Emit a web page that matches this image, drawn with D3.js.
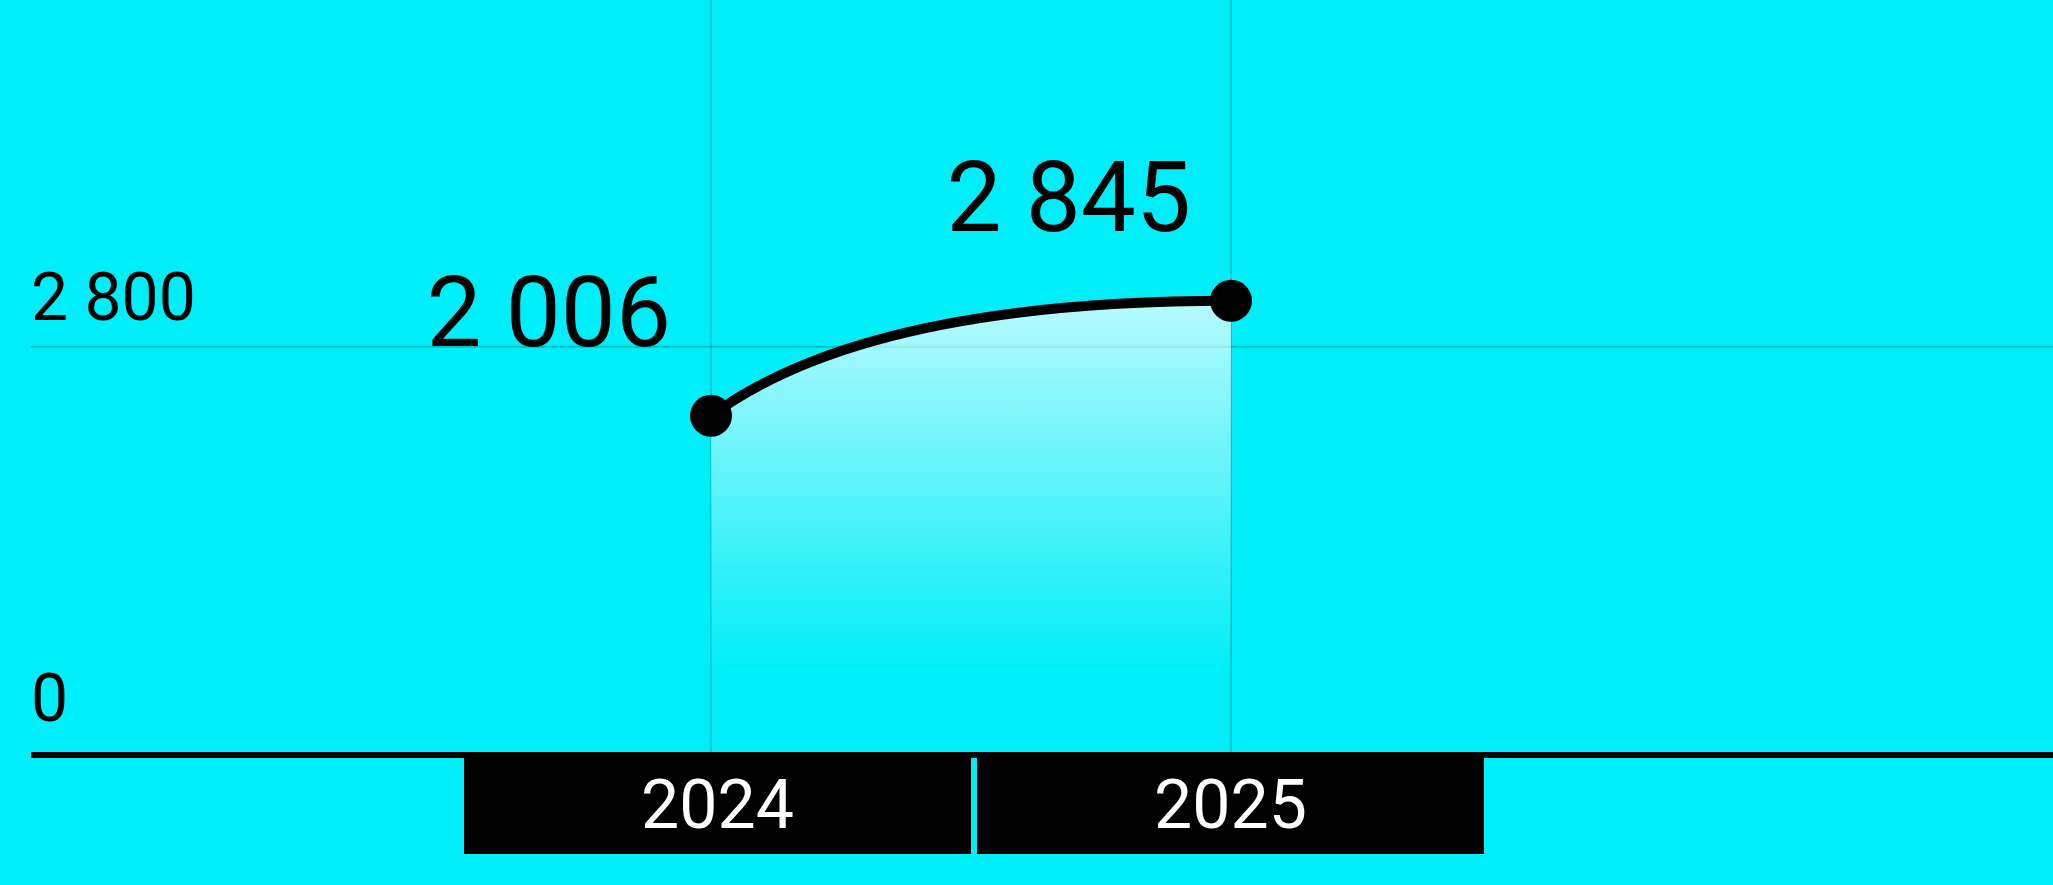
<!DOCTYPE html>
<html lang="en">
<head>
  <meta charset="UTF-8">
  <title>d3</title>
  <style>
    html, body { margin: 0; padding: 0; background: #00eef8; overflow: hidden; }
    svg { display: block; font-family: Roboto, "Noto Sans", sans-serif; }
  </style>
</head>
<body>
  <div id="chart"></div>
<script src="https://cdn.jsdelivr.net/npm/d3@7"></script>
<script>
  var years = ['2024', '2025']
  var values = [2006, 2845]
  var tickValues = [0, 2800]

  var width = 2053
  var height = 885
  var left = 31
  var axisY = 755
  var bg = '#00eef8'

  // "2 006" style numbers
  var fmt = d3.formatLocale({ thousands: ' ', grouping: [3], decimal: ',', currency: ['', ''] }).format(',d')

  var xPoint = d3.scalePoint().domain(years).range([711, 1231])
  var xBand = d3.scaleBand().domain(years).range([464, 1484]).paddingInner(6 / 513)
  var yGrid = d3.scaleLinear().domain([0, 2800]).range([748, 346.7])   // grid and tick labels
  var yLine = d3.scaleLinear().domain([0, 2800]).range([690.7, 306.9]) // the curve itself

  var svg = d3.select('#chart').append('svg')
    .attr('width', width)
    .attr('height', height)

  svg.append('rect').attr('width', width).attr('height', height).attr('fill', bg)

  var grad = svg.append('defs').append('linearGradient')
    .attr('id', 'fade')
    .attr('gradientUnits', 'userSpaceOnUse')
    .attr('x1', 0).attr('x2', 0)
    .attr('y1', yLine(d3.max(values))).attr('y2', 670)
  grad.append('stop').attr('offset', 0).attr('stop-color', '#fff').attr('stop-opacity', 0.72)
  grad.append('stop').attr('offset', 1).attr('stop-color', '#fff').attr('stop-opacity', 0)

  // grid
  svg.append('g').selectAll('line')
    .data(tickValues.filter(d => d > 0))
    .enter().append('line')
    .attr('x1', left).attr('x2', width)
    .attr('y1', d => yGrid(d)).attr('y2', d => yGrid(d))
    .attr('stroke', 'rgba(0,0,0,0.2)')
    .attr('stroke-width', 2)

  svg.append('g').selectAll('line')
    .data(years)
    .enter().append('line')
    .attr('x1', d => xPoint(d)).attr('x2', d => xPoint(d))
    .attr('y1', 0).attr('y2', axisY - 3)
    .attr('stroke', 'rgba(0,0,0,0.25)')
    .attr('stroke-width', 1.2)

  svg.append('g').selectAll('text')
    .data(tickValues)
    .enter().append('text')
    .attr('x', left)
    .attr('y', d => yGrid(d) - 27)
    .attr('font-size', 66)
    .attr('fill', '#000')
    .text(d => fmt(d))

  // curve: each segment is a quadratic bend that flattens into the next point
  var pts = years.map((y, i) => [xPoint(y), yLine(values[i])])
  function curve(p) {
    for (var i = 1; i < pts.length; i++) {
      var a = pts[i - 1], b = pts[i]
      p.quadraticCurveTo(a[0] + 0.3 * (b[0] - a[0]), b[1], b[0], b[1])
    }
    return p
  }

  var area = d3.path()
  area.moveTo(pts[0][0], pts[0][1])
  curve(area)
  area.lineTo(pts[pts.length - 1][0], axisY - 3)
  area.lineTo(pts[0][0], axisY - 3)
  area.closePath()
  svg.append('path').attr('d', area.toString()).attr('fill', 'url(#fade)')

  var line = d3.path()
  line.moveTo(pts[0][0], pts[0][1])
  curve(line)
  svg.append('path').attr('d', line.toString())
    .attr('fill', 'none').attr('stroke', '#000').attr('stroke-width', 10)

  svg.append('g').selectAll('circle')
    .data(pts)
    .enter().append('circle')
    .attr('cx', d => d[0]).attr('cy', d => d[1]).attr('r', 21)
    .attr('fill', '#000')

  svg.append('g').selectAll('text')
    .data(values)
    .enter().append('text')
    .attr('x', (d, i) => xPoint(years[i]) - 40)
    .attr('y', d => yLine(d) - 70)
    .attr('text-anchor', 'end')
    .attr('font-size', 98)
    .attr('fill', '#000')
    .text(d => fmt(d))

  // baseline
  svg.append('line')
    .attr('x1', left).attr('x2', width)
    .attr('y1', axisY).attr('y2', axisY)
    .attr('stroke', '#000').attr('stroke-width', 6)

  // year boxes
  var boxes = svg.append('g').selectAll('g')
    .data(years)
    .enter().append('g')
  boxes.append('rect')
    .attr('x', d => xBand(d))
    .attr('y', axisY - 3)
    .attr('width', xBand.bandwidth())
    .attr('height', 102)
    .attr('fill', '#000')
  boxes.append('text')
    .attr('x', d => xBand(d) + xBand.bandwidth() / 2)
    .attr('y', 828)
    .attr('text-anchor', 'middle')
    .attr('font-size', 68)
    .attr('fill', '#fff')
    .text(d => d)
</script>
</body>
</html>
